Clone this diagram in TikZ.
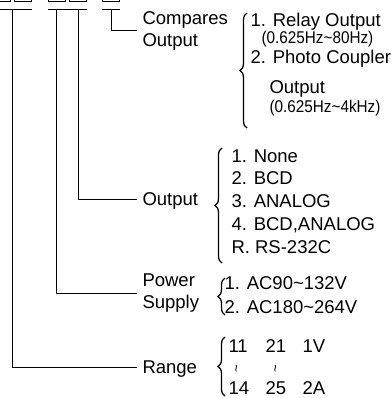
\documentclass[tikz,border=0pt]{standalone}
\usepackage{fontspec}
\setmainfont{Liberation Sans}
\newfontfamily\narrowsans[FakeStretch=0.9]{Liberation Sans}
\usetikzlibrary{decorations.pathreplacing}

\begin{document}
\begin{tikzpicture}[x=1pt, y=-1pt, line width=1pt,
    digit/.style = {draw, line width=0.8pt, minimum width=17pt,
        minimum height=20pt, inner sep=0pt},
    lbl/.style = {anchor=west, inner xsep=5pt, inner ysep=0pt,
        font=\fontsize{18.5}{22}\selectfont},
    one/.style = {lbl, text height=13pt, text depth=0pt},
    two/.style = {lbl, align=left},
    item/.style = {anchor=base west, inner sep=0pt,
        font=\fontsize{18.5}{22}\selectfont},
    small/.style = {item, font=\narrowsans\fontsize{17}{20}\selectfont},
    wave/.style = {rotate=90, inner sep=0pt, font=\fontsize{13}{13}\selectfont},
    brc/.style = {decorate, decoration={brace, amplitude=7pt}, line width=1.3pt}]
    \useasboundingbox (0,0) rectangle (391,398);
    \clip (0,0) rectangle (391,398);

    % code boxes
    \node[digit] (d1) at (1.5,-8.5) {};
    \node[digit] (d2) at (23,-8.5) {};
    \node[digit] (d3) at (56.5,-8.5) {};
    \node[digit] (d4) at (78,-8.5) {};
    \node[digit] (d5) at (111,-8.5) {};

    \draw ([yshift=-7.5pt]d1.south west) -- coordinate (rng) ([yshift=-7.5pt]d2.south east);
    \draw ([yshift=-7.5pt]d3.south west) -- ([yshift=-7.5pt]d4.south east);
    \coordinate (pwr) at ([yshift=-7.5pt]d3.south);
    \coordinate (out) at ([yshift=-7.5pt]d4.south);
    \draw ([yshift=-7.5pt]d5.south west) -- coordinate (cmp) ([yshift=-7.5pt]d5.south east);

    % labels
    \node[two] (cmplbl) at (137,30.7) {Compares\\Output};
    \node[one] (outlbl) at (137,199) {Output};
    \node[two] (pwrlbl) at (137,293) {Power\\Supply};
    \node[one] (rnglbl) at (137,367) {Range};

    \draw (cmp) |- (cmplbl.west);
    \draw (out) |- (outlbl.west);
    \draw (pwr) |- (pwrlbl.west);
    \draw (rng) |- (rnglbl.west);

    % compares output
    \node[item] (rly) at (250,27) {1. Relay Output};
    \node[small] (rlyhz) at (261,44) {(0.625Hz\textasciitilde 80Hz)};
    \node[item] (pht) at (250,64) {2. Photo Coupler};
    \node[item] (phtout) at (269,94) {Output};
    \node[small] (phthz) at (269,113) {(0.625Hz\textasciitilde 4kHz)};
    \draw[brc] (247,128) -- (247,13);

    % output
    \node[item] (none) at (231,162) {1. None};
    \node[item] (bcd) at (231,184.5) {2. BCD};
    \node[item] (ana) at (231,207.5) {3. ANALOG};
    \node[item] (bcdana) at (231,230) {4. BCD,ANALOG};
    \node[item] (rs) at (231,253) {R. RS-232C};
    \draw[brc] (222,263) -- (222,148);

    % power supply
    \node[item] (ac1) at (224,289) {1. AC90\textasciitilde 132V};
    \node[item] (ac2) at (224,313) {2. AC180\textasciitilde 264V};
    \draw[brc] (225,315) -- (225,278);

    % range
    \node[item] (r11) at (228,352) {11};
    \node[item] (r21) at (265,352) {21};
    \node[item] (r1v) at (302,352) {1V};
    \node[wave] (w1) at (238,369) {\textasciitilde};
    \node[wave] (w2) at (277,369) {\textasciitilde};
    \node[item] (r14) at (228,394) {14};
    \node[item] (r25) at (265,394) {25};
    \node[item] (r2a) at (302,394) {2A};
    \draw[brc] (225,396) -- (225,337);
\end{tikzpicture}
\end{document}
